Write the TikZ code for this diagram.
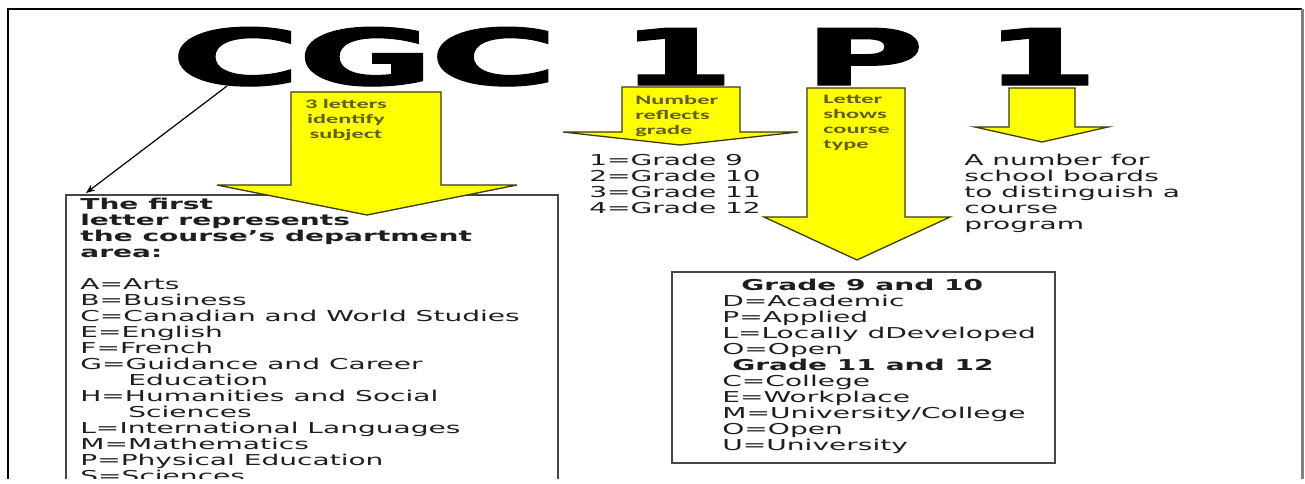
\documentclass[tikz,border=0pt]{standalone}
\usepackage{fontspec}
\setmainfont{DejaVu Sans}
\newfontfamily\lblfont{Carlito}
\newfontfamily\heavyfont[FakeBold=1.5]{DejaVu Sans Bold}
\usetikzlibrary{arrows.meta}
\definecolor{arrowyellow}{RGB}{255,255,0}
\definecolor{arrowedge}{RGB}{60,60,10}
\definecolor{lbltext}{RGB}{95,95,20}
\definecolor{bodytext}{RGB}{30,30,30}
\definecolor{boxedge}{RGB}{70,70,70}
\tikzset{
  bigletter/.style={anchor=base, inner sep=0pt, text depth=0pt, font=\heavyfont\fontsize{78}{80}\selectfont, text=black},
  bodytxt/.style={anchor=north west, inner sep=0pt, align=left, font=\fontsize{15}{16}\selectfont, text=bodytext},
  lbl/.style={inner sep=0pt, font=\lblfont\bfseries\fontsize{13}{15}\selectfont, text=lbltext},
  yarrow/.style={fill=arrowyellow, draw=arrowedge, line width=1.3pt, line join=miter},
  infobox/.style={draw=boxedge, line width=1.8pt},
}
\begin{document}
\begin{tikzpicture}[x=0.534759pt, y=-1pt, xscale=1.87, every node/.append style={transform shape}]
\useasboundingbox (0,0) rectangle (1305,483);
\begin{scope}
\clip (0,0) rectangle (1305,478);
% outer frame
\draw[line width=2.5pt] (8,480) -- (8,9) -- (1302,9);
\draw[gray, line width=3pt] (1302,9) -- (1302,480);

% big code letters
\node[bigletter] (c1) at (236,85) {\scalebox{1.22}[1]{C}};
\node[bigletter] (g1) at (366,85) {\scalebox{1.14}[1]{G}};
\node[bigletter] (c2) at (494,85) {\scalebox{1.2}[1]{C}};
\node[bigletter] (n1) at (677,85) {\scalebox{1.13}[1]{1}};
\node[bigletter] (p1) at (864,85) {\scalebox{1.13}[1]{P}};
\node[bigletter] (n2) at (1041,85) {\scalebox{1.13}[1]{1}};

% left box
\draw[infobox] (66,482) -- (66,195) -- (558,195) -- (558,482);
\node[bodytxt] (deptlist) at (80,197.5) {%
\textbf{The first}\\
\textbf{letter represents}\\
\textbf{the course’s department}\\
\textbf{area:}\\[16pt]
A=Arts\\
B=Business\\
C=Canadian and World Studies\\
E=English\\
F=French\\
G=Guidance and Career\\
\hspace*{25.7pt}Education\\
H=Humanities and Social\\
\hspace*{25.7pt}Sciences\\
L=International Languages\\
M=Mathematics\\
P=Physical Education\\
S=Sciences};

% right box
\draw[infobox] (672,272) rectangle (1055,463);
\node[bodytxt] (typelist) at (722,278.6) {%
\hspace*{10.2pt}\textbf{Grade 9 and 10}\\
D=Academic\\
P=Applied\\
L=Locally dDeveloped\\
O=Open\\
\hspace*{5.3pt}\textbf{Grade 11 and 12}\\
C=College\\
E=Workplace\\
M=University/College\\
O=Open\\
U=University};

% yellow arrows
\draw[yarrow] (291,92) -- (441,92) -- (441,185) -- (517,185) -- (367,215) -- (217,185) -- (291,185) -- cycle;
\draw[yarrow] (622,87) -- (740,87) -- (740,132) -- (798,132) -- (680,145) -- (563,132) -- (622,132) -- cycle;
\draw[yarrow] (807,88) -- (905,88) -- (905,217) -- (950,217) -- (857,260) -- (764,217) -- (807,217) -- cycle;
\draw[yarrow] (1009,88) -- (1075,88) -- (1075,127) -- (1108,127) -- (1042,142) -- (975,127) -- (1009,127) -- cycle;

% arrow labels
\node[lbl, anchor=north, align=center] (subjlbl) at (346,99) {3 letters\\identify\\subject};
\node[lbl, anchor=north west, align=left] (gradelbl) at (635,95) {Number\\reflects\\grade};
\node[lbl, anchor=north west, align=left] (typelbl) at (823,95) {Letter\\shows\\course\\type};

% free texts
\node[bodytxt] (grades) at (589,153.5) {1=Grade 9\\2=Grade 10\\3=Grade 11\\4=Grade 12};
\node[bodytxt] (boards) at (964,153.5) {A number for\\school boards\\to distinguish a\\course\\program};

% connector from first letter to the box
\coordinate (cfoot) at (227,86);
\coordinate (boxtip) at (86,193);
\draw[-{Stealth[length=9pt,width=7pt]}, line width=1.2pt] (cfoot) -- (boxtip);
\end{scope}
\end{tikzpicture}
\end{document}
